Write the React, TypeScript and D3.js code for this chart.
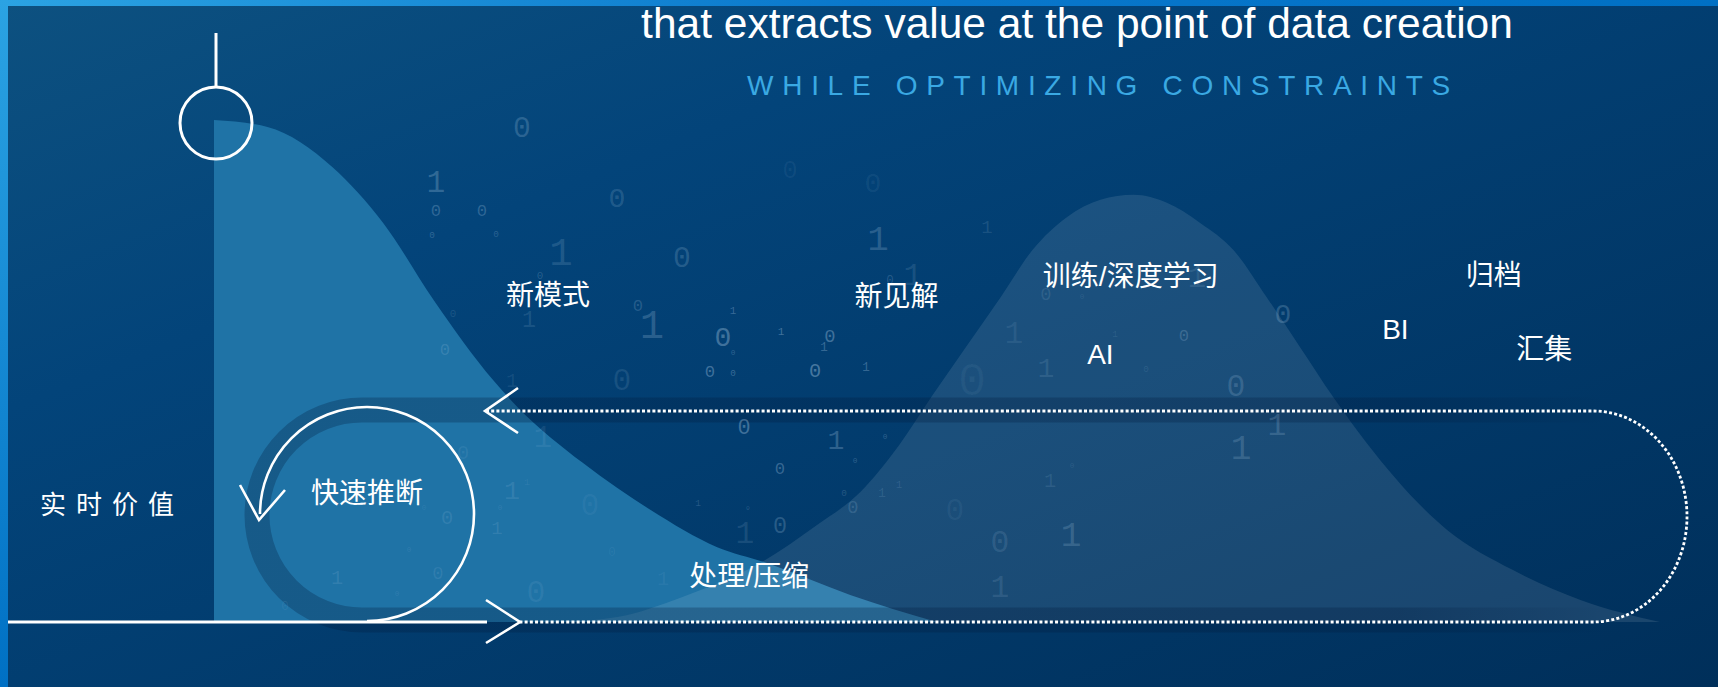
import React from 'react';
import * as d3 from 'd3';

const W = 1718;
const H = 687;

// value of data over time since creation (t: 0..100, v: 0..100)
const realtimeT = [0, 3.7, 8.2, 11.7, 15.2, 19.3, 21, 25.5, 30.2, 34.8, 38.2, 44, 50];
const realtimeV = [100, 98.6, 90.6, 79.5, 64.1, 48.2, 42.8, 31.7, 22.3, 14.9, 11.8, 5.4, 0];

const batchT = [23.9, 27.9, 32.4, 37.8, 41.7, 44.7, 47.4, 49.7, 52.1, 54.4, 56.6, 59.0, 61.3, 63.6, 65.9, 68.2, 70.5, 72.8, 75.1, 77.4, 79.7, 85.3, 89.8, 94.5, 100];
const batchV = [0, 1.0, 5.0, 11.8, 19.3, 25.9, 35.3, 45.2, 55.2, 64.7, 74.1, 80.7, 84.1, 85.1, 83.5, 79.5, 74.1, 64.7, 54.8, 44.8, 35.7, 18.3, 10.4, 4.4, 0];

const stageLabels = ['新模式', '新见解', '训练/深度学习', 'AI', '处理/压缩', 'BI', '归档', '汇集'];
const stageT = [23.1, 47.2, 63.4, 61.3, 37.0, 81.7, 88.5, 92.0];
const stageV = [65.1, 64.9, 68.9, 53.2, 9.0, 58.2, 69.1, 54.2];

const title = 'that extracts value at the point of data creation';
const subtitle = 'WHILE OPTIMIZING CONSTRAINTS';
const axisLabel = '实时价值';
const loopLabel = '快速推断';

// faint binary digits in the background: [glyph, x, y, height, opacity]
const binaryGlyphs: [string, number, number, number, number][] = [
  ['0', 522, 127, 19, 0.22], ['1', 436, 182, 20, 0.25], ['0', 436, 210, 11, 0.25], ['0', 482, 210, 11, 0.25],
  ['0', 432, 235, 6, 0.25], ['0', 496, 234, 6, 0.22], ['1', 561, 252, 25, 0.18], ['0', 617, 198, 18, 0.18],
  ['0', 682, 257, 19, 0.2], ['0', 540, 275, 7, 0.2], ['0', 638, 305, 11, 0.2], ['1', 652, 325, 26, 0.22],
  ['1', 529, 319, 15, 0.15], ['0', 453, 313, 7, 0.15], ['0', 445, 349, 11, 0.18], ['1', 878, 238, 23, 0.22],
  ['0', 873, 183, 18, 0.08], ['0', 790, 170, 16, 0.07], ['1', 913, 275, 20, 0.15], ['0', 890, 280, 8, 0.2],
  ['1', 987, 227, 12, 0.15], ['1', 733, 310, 7, 0.3], ['0', 723, 337, 18, 0.35], ['0', 733, 352, 5, 0.25],
  ['1', 781, 331, 7, 0.35], ['0', 830, 336, 12, 0.35], ['1', 824, 347, 8, 0.3], ['0', 710, 371, 11, 0.35],
  ['0', 733, 373, 6, 0.3], ['0', 815, 370, 13, 0.4], ['1', 866, 367, 8, 0.3], ['0', 744, 427, 14, 0.35],
  ['1', 836, 440, 18, 0.25], ['0', 885, 436, 5, 0.25], ['0', 622, 380, 20, 0.12], ['1', 512, 380, 13, 0.1],
  ['0', 780, 468, 11, 0.3], ['0', 855, 460, 5, 0.25], ['1', 543, 437, 20, 0.1], ['0', 463, 452, 13, 0.1],
  ['1', 512, 490, 17, 0.14], ['0', 500, 507, 5, 0.12], ['1', 497, 528, 12, 0.14], ['0', 590, 505, 20, 0.08],
  ['1', 698, 503, 6, 0.2], ['0', 748, 508, 4, 0.2], ['0', 780, 525, 15, 0.22], ['1', 745, 533, 20, 0.14],
  ['0', 844, 493, 6, 0.2], ['1', 882, 493, 8, 0.15], ['1', 899, 484, 7, 0.15], ['0', 853, 507, 12, 0.18],
  ['0', 612, 552, 8, 0.08], ['1', 663, 578, 13, 0.08], ['0', 536, 592, 20, 0.1], ['1', 1241, 448, 22, 0.2],
  ['0', 1000, 542, 20, 0.15], ['1', 1071, 535, 22, 0.2], ['1', 1000, 587, 20, 0.15], ['0', 955, 510, 20, 0.07],
  ['1', 1050, 480, 13, 0.12], ['0', 1072, 465, 5, 0.12], ['1', 1277, 425, 20, 0.2], ['0', 1046, 294, 12, 0.13],
  ['0', 1082, 296, 5, 0.13], ['1', 1197, 277, 20, 0.12], ['0', 1283, 314, 18, 0.22], ['0', 1184, 335, 11, 0.22],
  ['1', 1115, 334, 6, 0.12], ['1', 1014, 333, 20, 0.1], ['1', 1046, 368, 18, 0.13], ['0', 1146, 369, 6, 0.12],
  ['0', 1236, 386, 20, 0.2], ['0', 972, 380, 30, 0.06], ['0', 447, 517, 13, 0.14], ['1', 337, 577, 13, 0.14],
  ['0', 438, 573, 12, 0.12], ['0', 397, 593, 5, 0.12], ['0', 285, 606, 8, 0.1], ['0', 409, 549, 5, 0.12],
  ['0', 424, 507, 5, 0.1], ['1', 527, 482, 6, 0.1],
];

const x = d3.scaleLinear().domain([0, 100]).range([214, 1660]);
const y = d3.scaleLinear().domain([0, 100]).range([622, 120]);

const area = d3.area<[number, number]>()
  .x(d => x(d[0]))
  .y0(y(0))
  .y1(d => y(d[1]))
  .curve(d3.curveMonotoneX);

const realtime = realtimeT.map((t, i) => [t, realtimeV[i]] as [number, number]);
const batch = batchT.map((t, i) => [t, batchV[i]] as [number, number]);

// loop geometry
const loopTop = 411;
const loopBottom = 622;
const loopRightX = 1593;
const loopRx = 94;
const loopRy = (loopBottom - loopTop) / 2;

const ring = { cx: 367, cy: 514, r: 107 };

const App: React.FC = () => {
  const cjk = '"Liberation Sans", "Noto Sans CJK SC", sans-serif';

  const dottedPath = `M486,${loopTop} H${loopRightX} A${loopRx} ${loopRy} 0 0 1 ${loopRightX},${loopBottom} H520`;
  // shadow band under the loop, open on the right
  const bandPath = `M1600,410 H362 A105 105 0 0 0 362,620 H1600`;
  const ringPath = `M${ring.cx},${ring.cy + ring.r} A${ring.r} ${ring.r} 0 1 0 ${ring.cx - ring.r},${ring.cy}`;

  return (
    <svg width={W} height={H} style={{ display: 'block', position: 'absolute', left: 0, top: 0 }}>
      <style>{`body{margin:0;overflow:hidden}`}</style>
      <defs>
        <linearGradient id="bg" x1="0" y1="0" x2="1" y2="1">
          <stop offset="0" stopColor="#0d5180" />
          <stop offset="0.3" stopColor="#03447a" />
          <stop offset="1" stopColor="#002f5a" />
        </linearGradient>
        <linearGradient id="topBar" x1="0" y1="0" x2="1" y2="0">
          <stop offset="0" stopColor="#2ba3e3" />
          <stop offset="0.5" stopColor="#0a78cc" />
          <stop offset="1" stopColor="#0070c4" />
        </linearGradient>
        <linearGradient id="leftBar" x1="0" y1="0" x2="0" y2="1">
          <stop offset="0" stopColor="#2ba3e3" />
          <stop offset="1" stopColor="#0070c4" />
        </linearGradient>
        <linearGradient id="bandFade" gradientUnits="userSpaceOnUse" x1="1400" y1="0" x2="1610" y2="0">
          <stop offset="0" stopColor="#001a3c" stopOpacity={0.28} />
          <stop offset="1" stopColor="#001a3c" stopOpacity={0} />
        </linearGradient>
      </defs>

      <rect x={0} y={0} width={W} height={H} fill="url(#bg)" />

      <path d={area(realtime) ?? ''} fill="#1f73a6" />
      <path d={area(batch) ?? ''} fill="#ffffff" fillOpacity={0.1} />

      <path d={bandPath} fill="none" stroke="url(#bandFade)" strokeWidth={25} />

      <g fontFamily='"Liberation Mono", monospace' fill="#b4d2ea" textAnchor="middle">
        {binaryGlyphs.map(([g, gx, gy, h, o], i) => (
          <text key={i} x={gx} y={gy + h / 2} fontSize={h / 0.64} fillOpacity={o}>{g}</text>
        ))}
      </g>

      <g fill="none" stroke="#ffffff" strokeWidth={3}>
        <path d={dottedPath} strokeDasharray="3 2.2" strokeWidth={2.8} />
        <line x1={8} y1={loopBottom} x2={487} y2={loopBottom} />
        <path d={`M518,388 L485,${loopTop} L518,433`} strokeWidth={2.6} />
        <path d={`M486,600 L520,${loopBottom} L486,643`} strokeWidth={2.6} />
        <path d={ringPath} strokeWidth={2.6} />
        <path d="M240,485 L259,520 L285,490" strokeWidth={2.6} />
        <line x1={216} y1={33} x2={216} y2={87} />
        <circle cx={216} cy={123} r={36} />
      </g>

      <rect x={0} y={0} width={W} height={6} fill="url(#topBar)" />
      <rect x={0} y={0} width={8} height={H} fill="url(#leftBar)" />

      <text x={1077} y={38} textAnchor="middle" fontFamily='"Liberation Sans", Arial, sans-serif' fontSize={42.5} fill="#ffffff">{title}</text>
      <text x={1103} y={95} textAnchor="middle" fontFamily='"Liberation Sans", Arial, sans-serif' fontSize={28} letterSpacing={8.7} fill="#3aa9e3">{subtitle}</text>

      <g fontFamily={cjk} fontSize={28} fill="#ffffff" textAnchor="middle" dominantBaseline="central">
        {stageLabels.map((s, i) => (
          <text key={s} x={x(stageT[i])} y={y(stageV[i])}>{s}</text>
        ))}
        <text x={ring.cx} y={493}>{loopLabel}</text>
      </g>
      <text x={40} y={505} fontFamily={cjk} fontSize={26} letterSpacing={10} fill="#ffffff" dominantBaseline="central">{axisLabel}</text>
    </svg>
  );
};

export default App;
